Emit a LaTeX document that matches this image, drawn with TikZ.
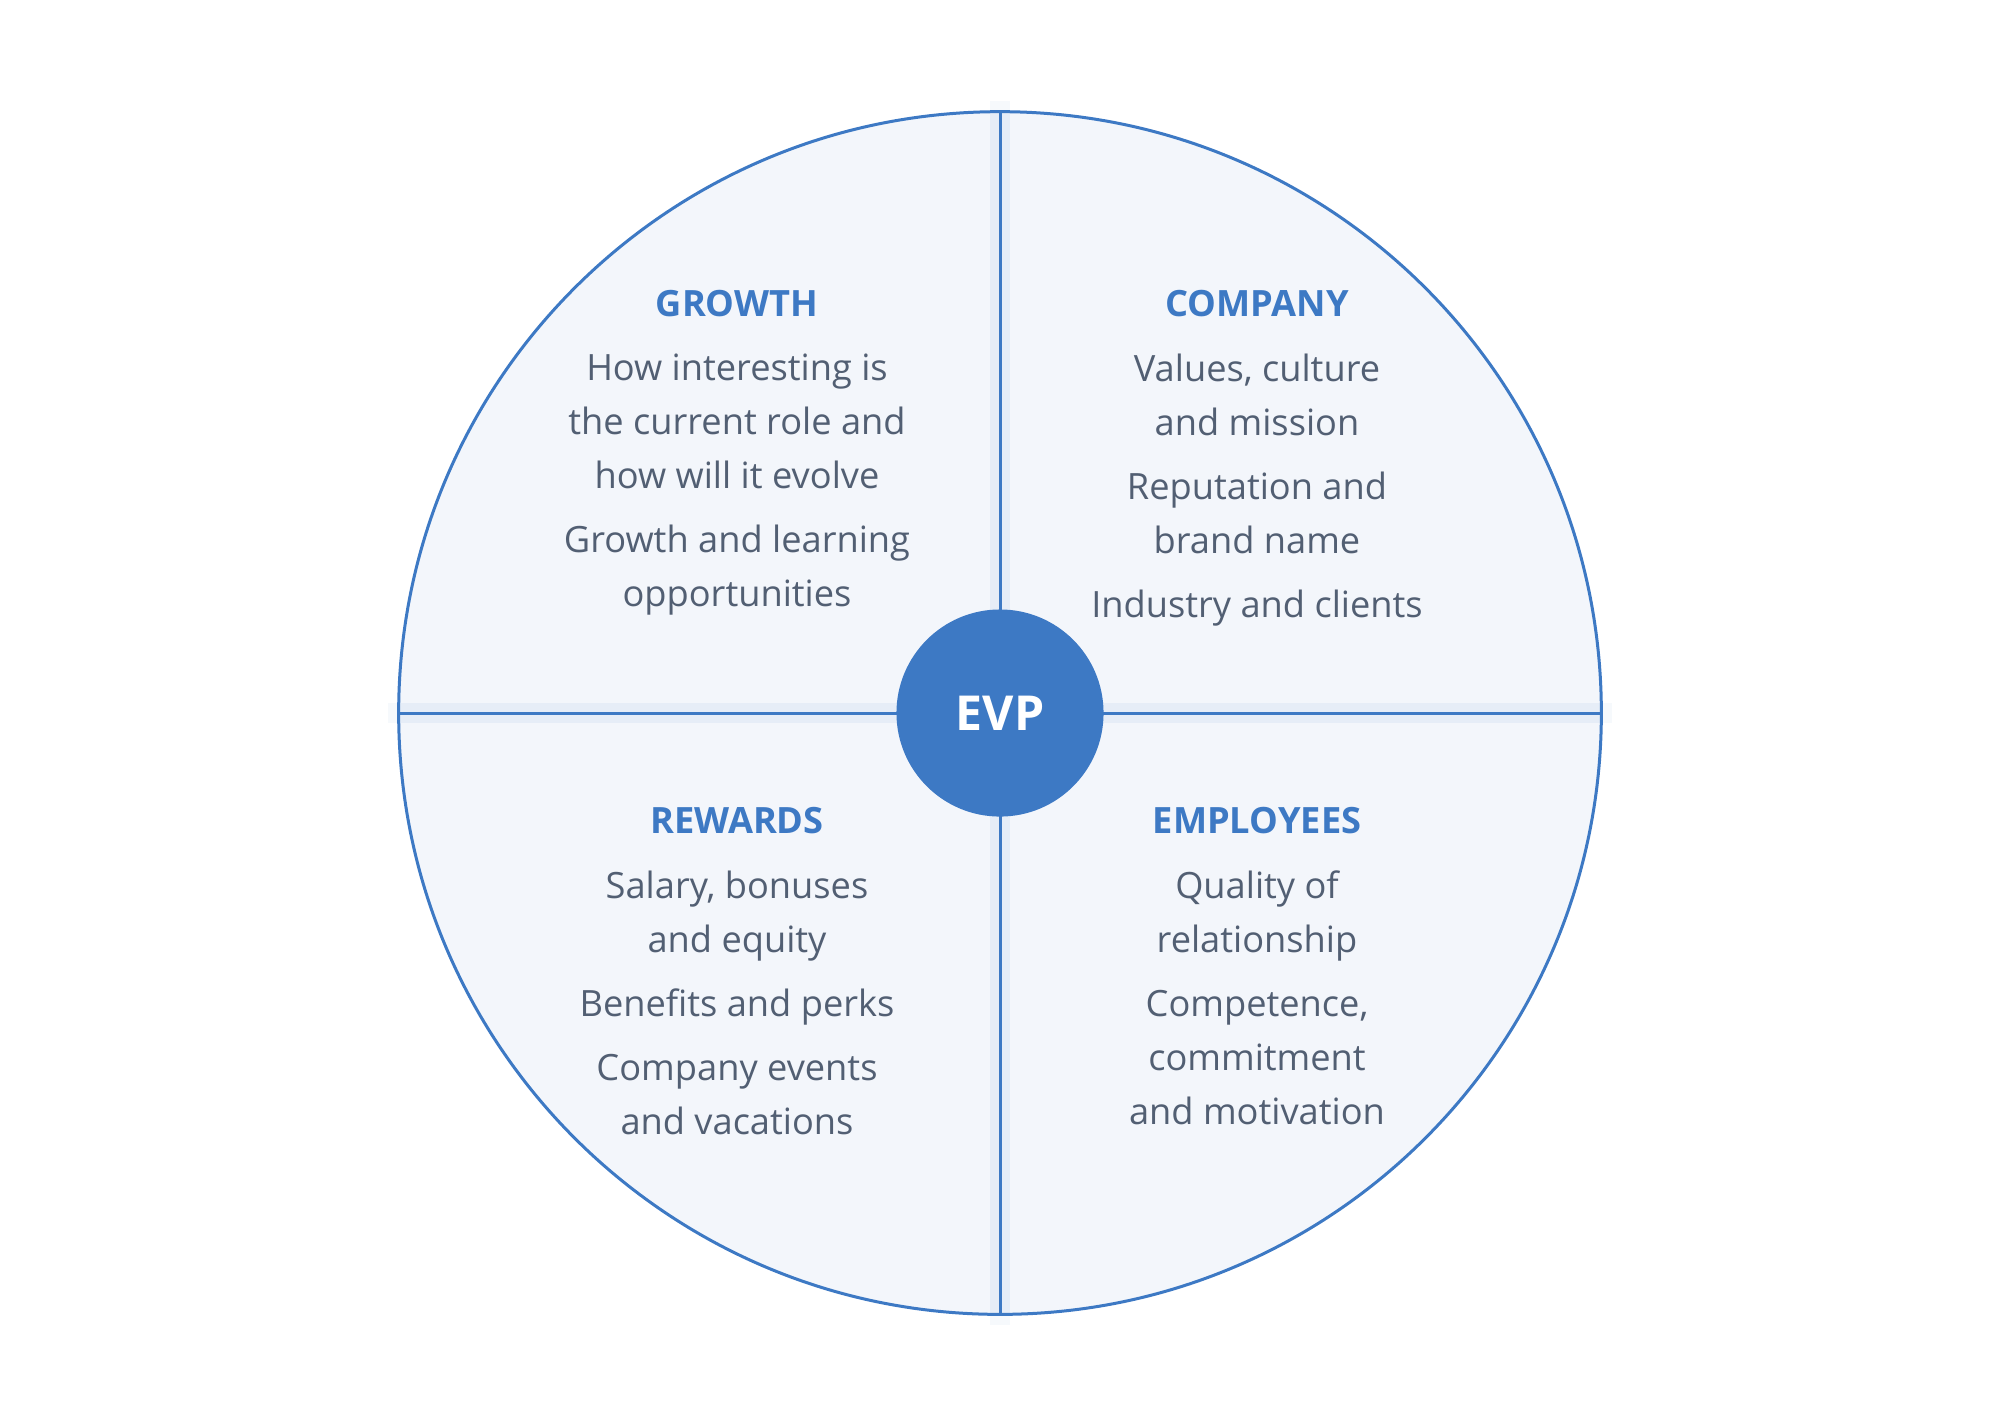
\documentclass[tikz,border=0pt]{standalone}
\usepackage{fontspec}
\setmainfont{Open Sans}
\usetikzlibrary{positioning}

\definecolor{evpblue}{HTML}{3D79C4}
\definecolor{quadfill}{HTML}{F3F6FB}
\definecolor{halo}{HTML}{E6EDF7}
\definecolor{bodygray}{HTML}{525F73}

\begin{document}
\begin{tikzpicture}[
    x=0.01cm,
    y=-0.01cm,
    head/.style={
        font=\fontsize{10.3}{12}\selectfont\bfseries,
        text=evpblue,
        inner sep=0pt,
        anchor=base
    },
    body/.style={
        font=\fontsize{10.3}{15.37}\selectfont,
        text=bodygray,
        inner sep=0pt,
        align=center,
        below=0.36cm of #1
    },
    haloline/.style={draw=halo, line width=0.2cm},
    halotip/.style={draw=halo!35, line width=0.2cm, line cap=rect},
    divider/.style={draw=evpblue, line width=0.03cm},
    rim/.style={circle, draw=evpblue, line width=0.03cm, minimum size=12.02cm, inner sep=0pt}
]

\useasboundingbox (0,0) rectangle (2000,1426);

% ============================================================
% KOLO Z CWIARTKAMI
% ============================================================
\node[circle, fill=quadfill, minimum size=12.02cm, inner sep=0pt] (wheel) at (1000,713) {};

\draw[halotip] (wheel.north) -- (wheel.south);
\draw[halotip] (wheel.west) -- (wheel.east);
\node[circle, fill=quadfill, minimum size=12.02cm, inner sep=0pt] (wheelfill) at (wheel.center) {};
\draw[haloline] (wheel.north) -- (wheel.south);
\draw[haloline] (wheel.west) -- (wheel.east);
\draw[divider] (wheel.north) -- (wheel.south);
\draw[divider] (wheel.west) -- (wheel.east);

\node[rim] (outline) at (wheel.center) {};

\node[circle, fill=evpblue, minimum size=2.07cm, inner sep=0pt, text=white,
      font=\fontsize{13.7}{16}\selectfont\bfseries] (evp) at (wheel.center) {EVP};

% ============================================================
% TEKSTY
% ============================================================
\node[head] (growth) at (737,316) {GROWTH};
\node[body=growth] (growthtxt) {How interesting is\\the current role and\\how will it evolve\\[2.8pt]Growth and learning\\opportunities};

\node[head] (company) at (1257,316) {COMPANY};
\node[body=company] (companytxt) {Values, culture\\and mission\\[2.8pt]Reputation and\\brand name\\[2.8pt]Industry and clients};

\node[head] (rewards) at (737,833) {REWARDS};
\node[body=rewards] (rewardstxt) {Salary, bonuses\\and equity\\[2.8pt]Benefits and perks\\[2.8pt]Company events\\and vacations};

\node[head] (employees) at (1257,833) {EMPLOYEES};
\node[body=employees] (employeestxt) {Quality of\\relationship\\[2.8pt]Competence,\\commitment\\and motivation};

\end{tikzpicture}
\end{document}
